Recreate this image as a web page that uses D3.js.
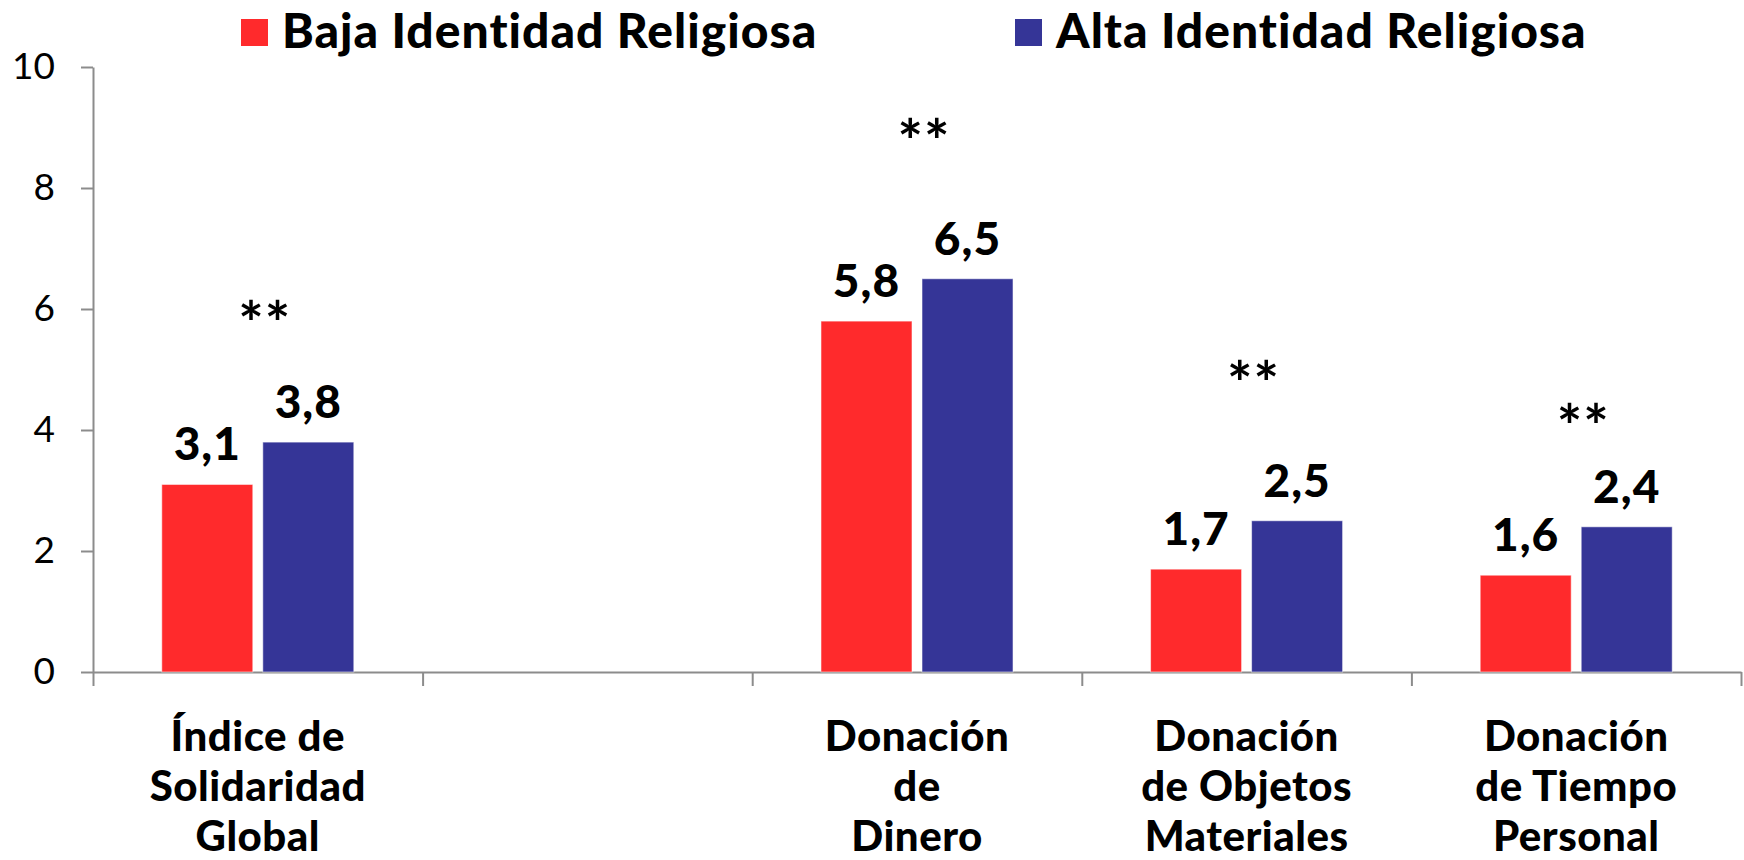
<!DOCTYPE html>
<html>
<head>
<meta charset="utf-8">
<script src="https://cdn.jsdelivr.net/npm/d3@7"></script>
<style>
  html, body { margin: 0; padding: 0; background: #fff; }
  svg { display: block; font-family: Lato, "Open Sans", sans-serif; }
</style>
</head>
<body>
<svg id="chart" width="1744" height="860"></svg>
<script>
// Series and categories
const series = ["Baja Identidad Religiosa", "Alta Identidad Religiosa"];
const seriesColors = ["#ff2a2c", "#353597"];
const categories = ["indice", "vacio", "dinero", "objetos", "tiempo"];
const categoryLines = [
  ["Índice de", "Solidaridad", "Global"],
  [],
  ["Donación", "de", "Dinero"],
  ["Donación", "de Objetos", "Materiales"],
  ["Donación", "de Tiempo", "Personal"]
];
const bajaValues = [3.1, null, 5.8, 1.7, 1.6];
const altaValues = [3.8, null, 6.5, 2.5, 2.4];
const yTicks = [0, 2, 4, 6, 8, 10];
const significance = ["**", "", "**", "**", "**"];
const significanceLevel = [6.1, null, 9.1, 5.1, 4.4];

const svg = d3.select("#chart");
const plot = { left: 93, right: 1741, top: 67, bottom: 672 };

const x0 = d3.scaleBand().domain(categories).range([plot.left, plot.right]).padding(0);
const x1 = d3.scaleBand().domain(series).range([0, x0.bandwidth()])
  .paddingInner(0.099).paddingOuter(0.681);
const xEdges = d3.scaleLinear().domain([0, categories.length]).range([plot.left, plot.right]);
const y = d3.scaleLinear().domain([0, 10]).range([plot.bottom, plot.top]);

const fmt = d3.formatLocale({ decimal: ",", thousands: ".", grouping: [3], currency: ["", "€"] }).format(".1f");

// Y axis
const yAxis = svg.append("g")
  .attr("transform", `translate(${plot.left},0)`)
  .call(d3.axisLeft(y).tickValues(yTicks).tickSize(12).tickSizeOuter(0).tickPadding(26).tickFormat(d3.format("d")));
yAxis.selectAll("path, line").attr("stroke", "#8c8c8c").attr("stroke-width", 2);
yAxis.selectAll("text").attr("font-size", 37).attr("font-weight", 400).attr("fill", "#000")
  .attr("font-family", "Lato, sans-serif");

// X axis with ticks at the category boundaries
const xAxis = svg.append("g")
  .attr("transform", `translate(0,${plot.bottom})`)
  .call(d3.axisBottom(xEdges).tickValues(d3.range(categories.length + 1)).tickSize(14).tickSizeOuter(0).tickFormat(""));
xAxis.selectAll("path, line").attr("stroke", "#8c8c8c").attr("stroke-width", 2);

// Bars
const rows = categories.map((c, i) => ({ cat: c, i, vals: [bajaValues[i], altaValues[i]] }));
const groups = svg.append("g").selectAll("g").data(rows).join("g")
  .attr("transform", d => `translate(${x0(d.cat)},0)`);

groups.selectAll("rect")
  .data(d => d.vals.map((v, k) => ({ s: series[k], k, v })).filter(e => e.v != null))
  .join("rect")
  .attr("x", e => x1(e.s))
  .attr("width", x1.bandwidth())
  .attr("y", e => y(e.v))
  .attr("height", e => y(0) - y(e.v))
  .attr("fill", e => seriesColors[e.k])
  .attr("stroke", "rgba(255,255,255,0.55)")
  .attr("stroke-width", 1);

// Value labels
groups.selectAll("text.val")
  .data(d => d.vals.map((v, k) => ({ s: series[k], k, v })).filter(e => e.v != null))
  .join("text")
  .attr("class", "val")
  .attr("x", e => x1(e.s) + x1.bandwidth() / 2)
  .attr("y", e => y(e.v) - 24)
  .attr("text-anchor", "middle")
  .attr("font-size", 46)
  .attr("font-weight", 900)
  .attr("letter-spacing", 1)
  .attr("fill", "#000")
  .text(e => fmt(e.v));

// Significance marks
svg.append("g").selectAll("text").data(rows.filter(d => significance[d.i]))
  .join("text")
  .attr("x", d => x0(d.cat) + x0.bandwidth() / 2 + 7)
  .attr("y", d => y(significanceLevel[d.i]) + 42)
  .attr("text-anchor", "middle")
  .attr("font-size", 60)
  .attr("font-weight", 700)
  .attr("letter-spacing", 1)
  .attr("fill", "#000")
  .text(d => significance[d.i]);

// Category labels
const catLabels = svg.append("g").selectAll("text").data(rows).join("text")
  .attr("text-anchor", "middle")
  .attr("font-size", 42)
  .attr("font-weight", 900)
  .attr("letter-spacing", 0.5)
  .attr("fill", "#000");
catLabels.selectAll("tspan").data(d => categoryLines[d.i].map(t => ({ t, cx: x0(d.cat) + x0.bandwidth() / 2 })))
  .join("tspan")
  .attr("x", e => e.cx)
  .attr("y", (e, j) => 751 + j * 50)
  .text(e => e.t);

// Legend
const legendX = [241, 1015];
const legend = svg.append("g").selectAll("g").data(series).join("g")
  .attr("transform", (d, i) => `translate(${legendX[i]},19)`);
legend.append("rect").attr("width", 27).attr("height", 27).attr("fill", (d, i) => seriesColors[i]);
legend.append("text")
  .attr("x", 41).attr("y", 29)
  .attr("font-size", 48)
  .attr("font-weight", 900)
  .attr("letter-spacing", 1.0)
  .attr("fill", "#000")
  .text(d => d);
</script>
</body>
</html>
